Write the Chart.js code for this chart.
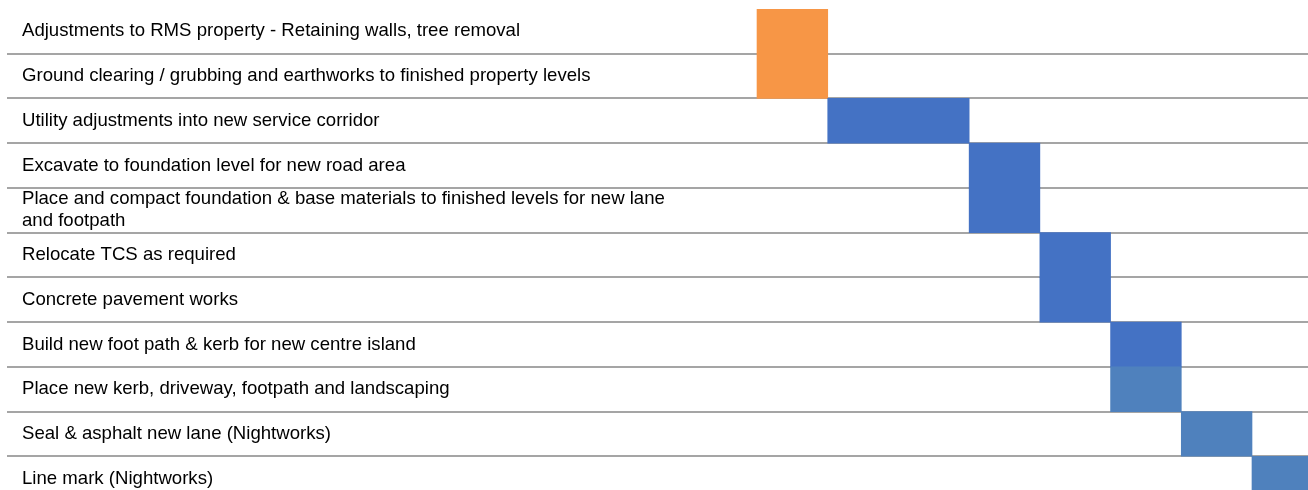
<!DOCTYPE html>
<html>
<head>
<meta charset="utf-8">
<script src="https://cdn.jsdelivr.net/npm/chart.js@4.4.1/dist/chart.umd.min.js"></script>
<style>
  html, body { margin: 0; padding: 0; background: #ffffff; overflow: hidden; }
  #wrap { width: 1308px; height: 501px; }
</style>
</head>
<body>
<div id="wrap"><canvas id="ganttChart" width="1308" height="501"></canvas></div>
<script>
// Construction staging gantt - tasks, start and finish (in weeks)

const tasks = [
    'Adjustments to RMS property - Retaining walls, tree removal',
    'Ground clearing / grubbing and earthworks to finished property levels',
    'Utility adjustments into new service corridor',
    'Excavate to foundation level for new road area',
    ['Place and compact foundation & base materials to finished levels for new lane', 'and footpath'],
    'Relocate TCS as required',
    'Concrete pavement works',
    'Build new foot path & kerb for new centre island',
    'Place new kerb, driveway, footpath and landscaping',
    'Seal & asphalt new lane (Nightworks)',
    'Line mark (Nightworks)'
];
const startWeek = [0, 0, 1, 3, 3, 4, 4, 5, 5, 6, 7];
const endWeek   = [1, 1, 3, 4, 4, 5, 5, 6, 6, 7, 8];

// colour for each bar
const barColors = [
    '#F79646', '#F79646',
    '#4472C4', '#4472C4', '#4472C4', '#4472C4', '#4472C4', '#4472C4',
    '#4F81BD', '#4F81BD', '#4F81BD'
];

const ctx = document.getElementById('ganttChart');

new Chart(ctx, {
    type: 'bar',
    data: {
        labels: tasks,
        datasets: [{
            label: 'Duration',
            data: startWeek.map((s, i) => [s, endWeek[i]]),
            backgroundColor: barColors,
            borderWidth: 0,
            categoryPercentage: 1.0,
            barPercentage: 1.0
        }]
    },
    options: {
        indexAxis: 'y',
        responsive: false,
        animation: false,
        layout: {
            padding: { top: 9, left: 0, right: 0, bottom: 0 }
        },
        plugins: {
            legend: { display: false },
            tooltip: { enabled: false }
        },
        scales: {
            x: {
                display: false,
                min: -10.607,
                max: 7.792
            },
            y: {
                z: 1,
                afterFit: (scale) => {
                    // labels sit inside the plot, so no room is needed round the axis
                    scale.width = 7;
                    scale.paddingTop = 0;
                    scale.paddingBottom = 0;
                },
                border: { display: false },
                grid: {
                    offset: true,
                    drawTicks: false,
                    lineWidth: 2,
                    color: (c) => c.index === 0 ? 'rgba(0,0,0,0)' : '#A5A5A5'
                },
                ticks: {
                    autoSkip: false,
                    mirror: true,
                    padding: 15,
                    color: '#000000',
                    font: {
                        family: '"Liberation Sans", Arial, sans-serif',
                        size: 18.6,
                        lineHeight: 1.18
                    }
                }
            }
        }
    }
});
</script>
</body>
</html>
